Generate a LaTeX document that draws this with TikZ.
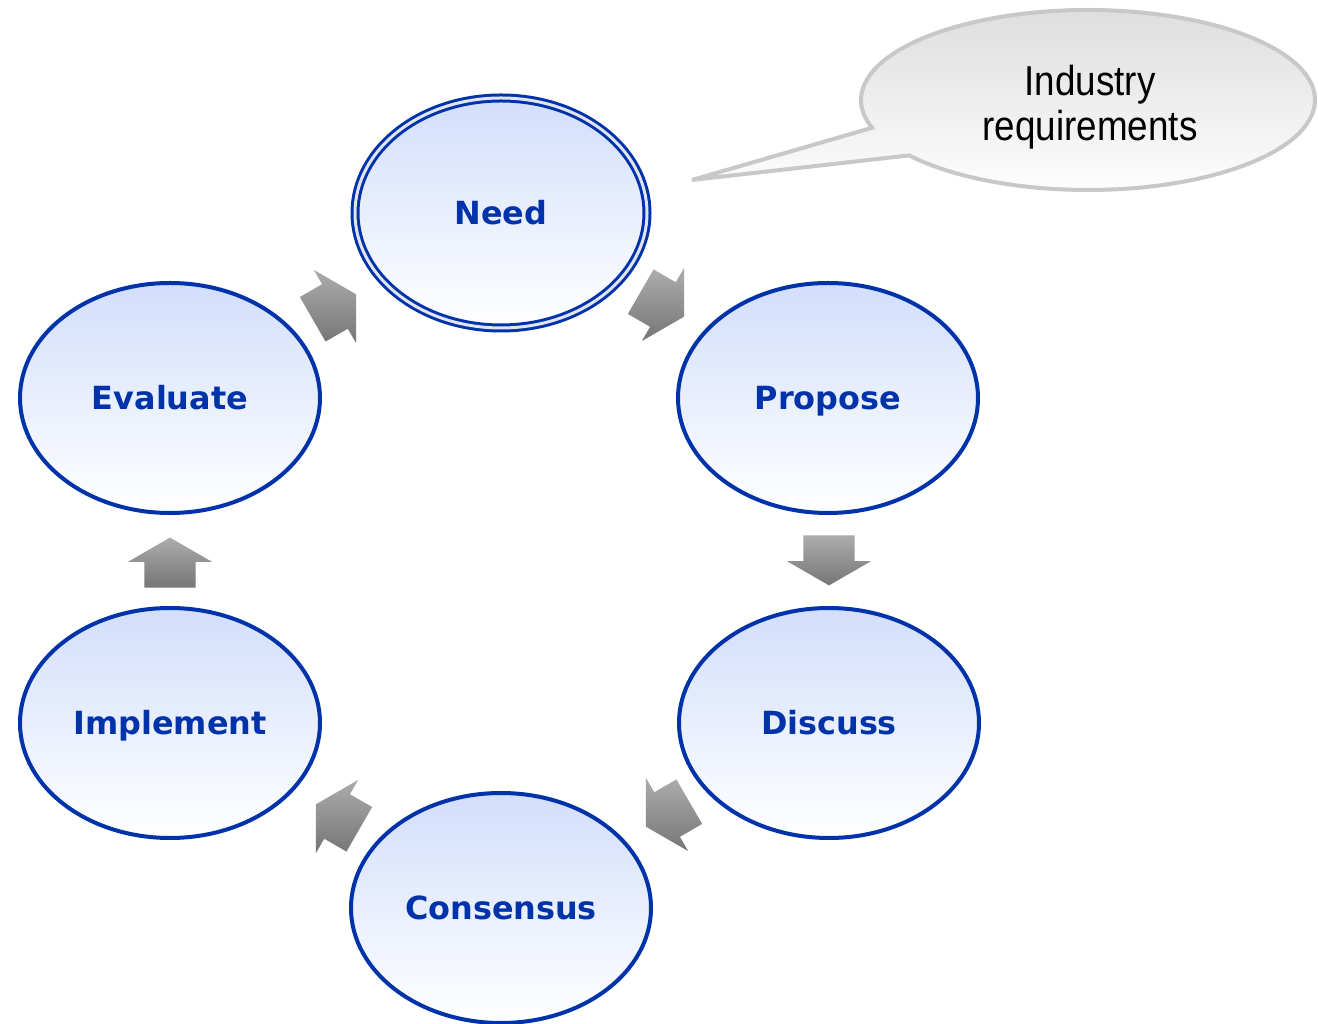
\documentclass[tikz,border=0pt]{standalone}
\usepackage{fontspec}
\usetikzlibrary{shapes.geometric,shapes.arrows}
\newfontfamily\stepfont{DejaVu Sans}
\newfontfamily\calloutfont[FakeStretch=0.88]{Liberation Sans}
\definecolor{stepblue}{RGB}{0,51,170}
\definecolor{steptop}{RGB}{210,222,251}
\definecolor{needgap}{RGB}{225,228,236}
\definecolor{arrowtop}{RGB}{172,172,172}
\definecolor{arrowbot}{RGB}{118,118,118}
\definecolor{callouttop}{RGB}{220,220,220}
\definecolor{calloutline}{RGB}{200,200,200}
\begin{document}
\begin{tikzpicture}[>=latex,line join=bevel,
  stepnode/.style={ellipse,draw=stepblue,line width=4bp,top color=steptop,bottom color=white,
    minimum width=300bp,minimum height=230bp,inner sep=0pt,text=stepblue,
    font=\stepfont\bfseries\fontsize{32}{32}\selectfont,text height=23.3bp,text depth=0bp},
  cyclearrow/.style={single arrow,draw=none,top color=arrowtop,bottom color=arrowbot,
    shading angle=0,minimum height=50bp,inner xsep=0pt,inner ysep=25.5bp,
    single arrow head extend=16.5bp,single arrow tip angle=120,rotate=#1,xshift=-7bp},
]
%%
\useasboundingbox (0bp,0bp) rectangle (1318bp,1024bp);
\begin{scope}
  \definecolor{fillcol}{rgb}{1.0,1.0,1.0};
  \pgfsetfillcolor{fillcol}
  \fill (0bp,0bp) -- (0bp,1024bp) -- (1318bp,1024bp) -- (1318bp,0bp) -- cycle;
\end{scope}
%% callout
\coordinate (calloutc) at (1088bp,924bp);
\coordinate (tip) at (692bp,844bp);
\draw [draw=calloutline,line width=4bp,line join=miter,top color=callouttop,bottom color=white]
  ([shift={(218:227bp and 90bp)}]calloutc) arc [start angle=218,end angle=558,x radius=227bp,y radius=90bp]
  -- (tip) -- cycle;
\node (industry) at (1090bp,917bp) [align=center,font=\calloutfont\fontsize{42}{45}\selectfont] {Industry\\requirements};
%% steps
  \node (need) at (501bp,811bp) [stepnode,double=needgap,double distance=3bp,line width=3bp,minimum width=292bp,minimum height=230bp] {Need};
  \node (propose) at (828bp,626bp) [stepnode] {Propose};
  \node (discuss) at (829bp,301bp) [stepnode] {Discuss};
  \node (consensus) at (501bp,116bp) [stepnode] {Consensus};
  \node (implement) at (170bp,301bp) [stepnode] {Implement};
  \node (evaluate) at (170bp,626bp) [stepnode] {Evaluate};
%% arrows
  \node (needpropose) at (662bp,720bp) [cyclearrow=-30] {};
  \node (proposediscuss) at (829bp,464bp) [cyclearrow=-90] {};
  \node (discussconsensus) at (668bp,210bp) [cyclearrow=210] {};
  \node (consensusimplement) at (338bp,207bp) [cyclearrow=150] {};
  \node (implementevaluate) at (170bp,461bp) [cyclearrow=90] {};
  \node (evaluateneed) at (334bp,717bp) [cyclearrow=30] {};
%
\end{tikzpicture}
\end{document}
